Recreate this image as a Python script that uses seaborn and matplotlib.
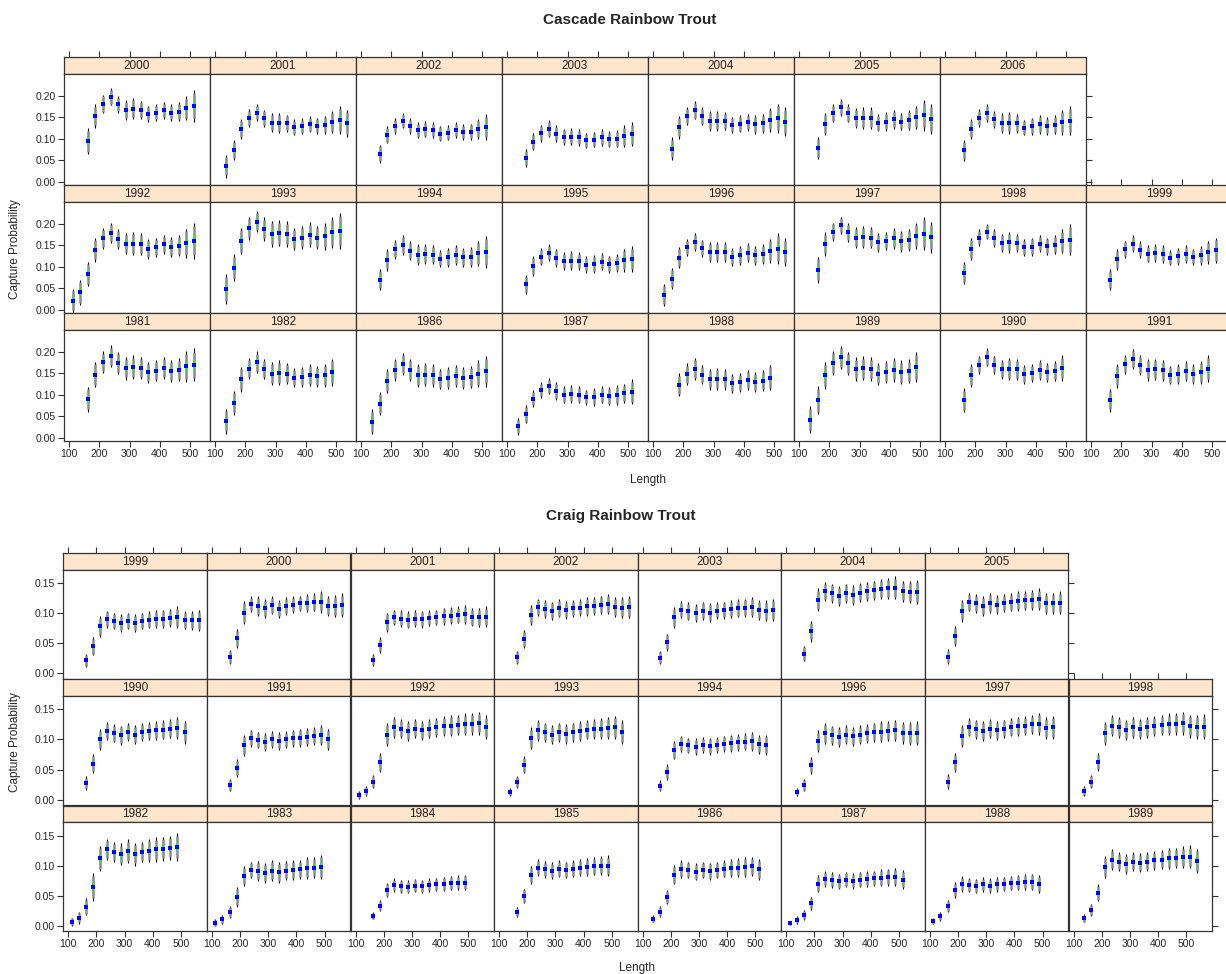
import pandas as pd
import seaborn as sns
import matplotlib
matplotlib.use("Agg")
import matplotlib.pyplot as plt

# length bin midpoints (mm)
length_bins = [112.5, 137.5, 162.5, 187.5, 212.5, 237.5, 262.5, 287.5, 312.5, 337.5,
               362.5, 387.5, 412.5, 437.5, 462.5, 487.5, 512.5, 537.5, 562.5]

# ---------------- Cascade ----------------
cascade_rows = [[2000, 2001, 2002, 2003, 2004, 2005, 2006],
                [1992, 1993, 1994, 1995, 1996, 1997, 1998, 1999],
                [1981, 1982, 1986, 1987, 1988, 1989, 1990, 1991]]

cascade_first = {2000: 162.5, 2001: 137.5, 2002: 162.5, 2003: 162.5, 2004: 162.5, 2005: 162.5, 2006: 162.5,
                 1992: 112.5, 1993: 137.5, 1994: 162.5, 1995: 162.5, 1996: 137.5, 1997: 162.5, 1998: 162.5,
                 1999: 162.5, 1981: 162.5, 1982: 137.5, 1986: 137.5, 1987: 137.5, 1988: 187.5, 1989: 137.5,
                 1990: 162.5, 1991: 162.5}

cascade_prob = {
    2000: [0.094, 0.153, 0.181, 0.198, 0.180, 0.167, 0.170, 0.168, 0.158, 0.161, 0.166, 0.161, 0.163, 0.171, 0.177],
    2001: [0.036, 0.074, 0.123, 0.148, 0.161, 0.148, 0.137, 0.137, 0.136, 0.127, 0.129, 0.134, 0.130, 0.133, 0.139, 0.144, 0.136],
    2002: [0.065, 0.109, 0.130, 0.142, 0.130, 0.120, 0.122, 0.120, 0.112, 0.114, 0.120, 0.116, 0.116, 0.123, 0.127],
    2003: [0.055, 0.093, 0.113, 0.123, 0.112, 0.104, 0.105, 0.103, 0.096, 0.098, 0.103, 0.099, 0.100, 0.106, 0.110],
    2004: [0.077, 0.127, 0.153, 0.166, 0.152, 0.141, 0.141, 0.141, 0.132, 0.135, 0.138, 0.134, 0.136, 0.144, 0.148, 0.140],
    2005: [0.078, 0.134, 0.159, 0.173, 0.159, 0.148, 0.148, 0.148, 0.137, 0.140, 0.145, 0.140, 0.143, 0.150, 0.155, 0.146],
    2006: [0.073, 0.123, 0.148, 0.160, 0.145, 0.136, 0.137, 0.136, 0.126, 0.129, 0.134, 0.130, 0.133, 0.138, 0.142],
    1992: [0.021, 0.040, 0.083, 0.140, 0.166, 0.179, 0.164, 0.154, 0.154, 0.153, 0.142, 0.145, 0.152, 0.146, 0.149, 0.155, 0.161],
    1993: [0.047, 0.098, 0.160, 0.190, 0.205, 0.188, 0.177, 0.178, 0.176, 0.164, 0.168, 0.175, 0.168, 0.171, 0.180, 0.184],
    1994: [0.070, 0.116, 0.141, 0.151, 0.137, 0.128, 0.130, 0.128, 0.119, 0.122, 0.127, 0.122, 0.123, 0.131, 0.134],
    1995: [0.059, 0.101, 0.123, 0.133, 0.121, 0.113, 0.114, 0.113, 0.105, 0.106, 0.112, 0.106, 0.109, 0.115, 0.118],
    1996: [0.034, 0.072, 0.121, 0.145, 0.158, 0.143, 0.134, 0.134, 0.134, 0.123, 0.127, 0.133, 0.127, 0.130, 0.137, 0.142, 0.134],
    1997: [0.093, 0.153, 0.182, 0.197, 0.180, 0.168, 0.170, 0.168, 0.157, 0.160, 0.166, 0.159, 0.163, 0.172, 0.177, 0.169],
    1998: [0.086, 0.142, 0.168, 0.182, 0.167, 0.156, 0.157, 0.155, 0.145, 0.147, 0.154, 0.148, 0.151, 0.159, 0.163],
    1999: [0.070, 0.117, 0.141, 0.154, 0.140, 0.130, 0.132, 0.130, 0.121, 0.124, 0.129, 0.123, 0.127, 0.134, 0.138],
    1981: [0.089, 0.147, 0.176, 0.190, 0.174, 0.162, 0.164, 0.163, 0.152, 0.156, 0.162, 0.156, 0.158, 0.166, 0.170],
    1982: [0.038, 0.081, 0.136, 0.161, 0.176, 0.160, 0.149, 0.151, 0.149, 0.140, 0.142, 0.146, 0.143, 0.145, 0.152],
    1986: [0.037, 0.079, 0.132, 0.158, 0.172, 0.157, 0.145, 0.147, 0.145, 0.137, 0.139, 0.144, 0.139, 0.141, 0.149, 0.155],
    1987: [0.026, 0.054, 0.091, 0.111, 0.120, 0.109, 0.100, 0.102, 0.100, 0.094, 0.095, 0.100, 0.096, 0.099, 0.103, 0.107],
    1988: [0.123, 0.148, 0.160, 0.147, 0.136, 0.137, 0.136, 0.127, 0.129, 0.134, 0.130, 0.133, 0.140],
    1989: [0.042, 0.087, 0.145, 0.174, 0.187, 0.173, 0.160, 0.162, 0.160, 0.149, 0.153, 0.158, 0.152, 0.155, 0.164],
    1990: [0.087, 0.145, 0.170, 0.187, 0.170, 0.159, 0.160, 0.159, 0.148, 0.151, 0.157, 0.152, 0.155, 0.162],
    1991: [0.087, 0.144, 0.171, 0.184, 0.169, 0.158, 0.159, 0.157, 0.146, 0.149, 0.155, 0.149, 0.152, 0.161],
}

# half-width of the outer interval
cascade_err = {
    2000: [0.030, 0.027, 0.022, 0.020, 0.019, 0.023, 0.024, 0.021, 0.019, 0.019, 0.020, 0.020, 0.022, 0.028, 0.037],
    2001: [0.027, 0.024, 0.024, 0.021, 0.020, 0.020, 0.022, 0.023, 0.020, 0.019, 0.019, 0.019, 0.019, 0.021, 0.025, 0.032, 0.032],
    2002: [0.021, 0.020, 0.018, 0.018, 0.018, 0.019, 0.019, 0.018, 0.018, 0.018, 0.018, 0.018, 0.019, 0.023, 0.030],
    2003: [0.020, 0.020, 0.020, 0.020, 0.019, 0.019, 0.019, 0.019, 0.018, 0.018, 0.019, 0.019, 0.020, 0.025, 0.028],
    2004: [0.026, 0.027, 0.020, 0.021, 0.021, 0.023, 0.024, 0.021, 0.019, 0.020, 0.020, 0.022, 0.022, 0.028, 0.034, 0.034],
    2005: [0.026, 0.026, 0.021, 0.020, 0.021, 0.023, 0.025, 0.025, 0.020, 0.023, 0.023, 0.020, 0.023, 0.027, 0.036, 0.035],
    2006: [0.025, 0.024, 0.021, 0.020, 0.020, 0.023, 0.025, 0.022, 0.018, 0.020, 0.022, 0.021, 0.022, 0.029, 0.034],
    1992: [0.028, 0.030, 0.028, 0.028, 0.024, 0.023, 0.023, 0.024, 0.027, 0.025, 0.023, 0.023, 0.022, 0.024, 0.025, 0.034, 0.042],
    1993: [0.035, 0.032, 0.031, 0.027, 0.025, 0.027, 0.030, 0.030, 0.030, 0.026, 0.027, 0.029, 0.027, 0.031, 0.036, 0.042],
    1994: [0.024, 0.025, 0.022, 0.024, 0.022, 0.024, 0.024, 0.022, 0.020, 0.022, 0.023, 0.022, 0.023, 0.030, 0.037],
    1995: [0.022, 0.023, 0.020, 0.020, 0.021, 0.021, 0.022, 0.021, 0.019, 0.021, 0.020, 0.020, 0.021, 0.027, 0.030],
    1996: [0.026, 0.025, 0.024, 0.020, 0.021, 0.020, 0.023, 0.024, 0.023, 0.021, 0.022, 0.023, 0.022, 0.024, 0.028, 0.036, 0.033],
    1997: [0.030, 0.027, 0.021, 0.020, 0.023, 0.025, 0.026, 0.025, 0.022, 0.021, 0.025, 0.025, 0.026, 0.031, 0.039, 0.036],
    1998: [0.026, 0.026, 0.020, 0.018, 0.020, 0.021, 0.024, 0.021, 0.020, 0.021, 0.020, 0.020, 0.022, 0.028, 0.036],
    1999: [0.024, 0.024, 0.020, 0.020, 0.020, 0.020, 0.021, 0.021, 0.018, 0.020, 0.021, 0.019, 0.022, 0.027, 0.030],
    1981: [0.029, 0.030, 0.025, 0.025, 0.025, 0.027, 0.028, 0.026, 0.025, 0.025, 0.026, 0.026, 0.027, 0.036, 0.038],
    1982: [0.029, 0.028, 0.029, 0.025, 0.025, 0.024, 0.027, 0.029, 0.025, 0.023, 0.023, 0.026, 0.025, 0.027, 0.032],
    1986: [0.029, 0.027, 0.028, 0.025, 0.026, 0.026, 0.027, 0.027, 0.026, 0.024, 0.025, 0.026, 0.025, 0.026, 0.032, 0.036],
    1987: [0.020, 0.021, 0.020, 0.018, 0.019, 0.021, 0.020, 0.021, 0.020, 0.017, 0.021, 0.020, 0.021, 0.024, 0.023, 0.029],
    1988: [0.027, 0.025, 0.025, 0.023, 0.024, 0.026, 0.024, 0.022, 0.022, 0.023, 0.023, 0.025, 0.030],
    1989: [0.032, 0.033, 0.031, 0.028, 0.027, 0.027, 0.027, 0.028, 0.027, 0.026, 0.025, 0.028, 0.028, 0.028, 0.035],
    1990: [0.028, 0.027, 0.021, 0.021, 0.021, 0.023, 0.025, 0.025, 0.022, 0.021, 0.023, 0.022, 0.024, 0.030],
    1991: [0.027, 0.028, 0.022, 0.023, 0.023, 0.025, 0.025, 0.025, 0.022, 0.023, 0.024, 0.023, 0.027, 0.031],
}

# ---------------- Craig ----------------
craig_rows = [[1999, 2000, 2001, 2002, 2003, 2004, 2005],
              [1990, 1991, 1992, 1993, 1994, 1996, 1997, 1998],
              [1982, 1983, 1984, 1985, 1986, 1987, 1988, 1989]]

craig_first = {1999: 162.5, 2000: 162.5, 2001: 162.5, 2002: 162.5, 2003: 162.5, 2004: 162.5, 2005: 162.5,
               1990: 162.5, 1991: 162.5, 1992: 112.5, 1993: 137.5, 1994: 162.5, 1996: 137.5, 1997: 162.5,
               1998: 137.5, 1982: 112.5, 1983: 112.5, 1984: 162.5, 1985: 162.5, 1986: 137.5, 1987: 112.5,
               1988: 112.5, 1989: 137.5}

craig_prob = {
    1999: [0.022, 0.045, 0.078, 0.090, 0.087, 0.084, 0.087, 0.084, 0.087, 0.089, 0.090, 0.091, 0.092, 0.093, 0.088, 0.088, 0.088],
    2000: [0.027, 0.058, 0.101, 0.115, 0.112, 0.108, 0.113, 0.107, 0.112, 0.114, 0.116, 0.117, 0.118, 0.119, 0.112, 0.112, 0.113],
    2001: [0.022, 0.047, 0.085, 0.093, 0.091, 0.089, 0.091, 0.090, 0.092, 0.093, 0.095, 0.096, 0.097, 0.098, 0.093, 0.093, 0.094],
    2002: [0.027, 0.057, 0.097, 0.110, 0.107, 0.104, 0.108, 0.105, 0.108, 0.109, 0.111, 0.112, 0.114, 0.115, 0.110, 0.109, 0.110],
    2003: [0.026, 0.052, 0.093, 0.106, 0.103, 0.100, 0.104, 0.101, 0.104, 0.105, 0.107, 0.108, 0.109, 0.110, 0.105, 0.104, 0.105],
    2004: [0.033, 0.070, 0.122, 0.136, 0.133, 0.128, 0.133, 0.130, 0.134, 0.136, 0.138, 0.140, 0.141, 0.142, 0.136, 0.135, 0.135],
    2005: [0.028, 0.062, 0.104, 0.118, 0.116, 0.112, 0.117, 0.114, 0.117, 0.118, 0.120, 0.121, 0.122, 0.123, 0.116, 0.116, 0.117],
    1990: [0.028, 0.060, 0.100, 0.114, 0.110, 0.107, 0.112, 0.108, 0.112, 0.114, 0.115, 0.116, 0.118, 0.119, 0.112],
    1991: [0.025, 0.053, 0.090, 0.102, 0.099, 0.096, 0.100, 0.097, 0.100, 0.102, 0.103, 0.104, 0.106, 0.107, 0.100],
    1992: [0.008, 0.015, 0.030, 0.062, 0.108, 0.120, 0.118, 0.114, 0.118, 0.115, 0.118, 0.120, 0.122, 0.123, 0.124, 0.125, 0.126, 0.127, 0.120],
    1993: [0.013, 0.030, 0.058, 0.102, 0.115, 0.112, 0.108, 0.112, 0.109, 0.112, 0.114, 0.116, 0.117, 0.118, 0.119, 0.120, 0.112],
    1994: [0.023, 0.046, 0.082, 0.093, 0.090, 0.088, 0.091, 0.089, 0.091, 0.093, 0.094, 0.095, 0.096, 0.097, 0.092, 0.091],
    1996: [0.013, 0.025, 0.057, 0.097, 0.110, 0.107, 0.104, 0.108, 0.105, 0.108, 0.110, 0.112, 0.113, 0.114, 0.115, 0.111, 0.110, 0.110],
    1997: [0.030, 0.062, 0.106, 0.120, 0.117, 0.114, 0.118, 0.115, 0.118, 0.120, 0.122, 0.123, 0.125, 0.126, 0.119, 0.120],
    1998: [0.015, 0.030, 0.063, 0.110, 0.123, 0.120, 0.116, 0.120, 0.117, 0.120, 0.122, 0.124, 0.125, 0.126, 0.127, 0.122, 0.121, 0.121],
    1982: [0.007, 0.014, 0.032, 0.065, 0.112, 0.127, 0.123, 0.119, 0.124, 0.119, 0.123, 0.125, 0.127, 0.128, 0.130, 0.131],
    1983: [0.0055, 0.011, 0.023, 0.048, 0.083, 0.093, 0.091, 0.088, 0.092, 0.089, 0.092, 0.093, 0.094, 0.096, 0.097, 0.098],
    1984: [0.017, 0.034, 0.060, 0.068, 0.066, 0.065, 0.067, 0.066, 0.068, 0.069, 0.070, 0.071, 0.072, 0.072],
    1985: [0.023, 0.050, 0.085, 0.097, 0.094, 0.092, 0.095, 0.093, 0.095, 0.097, 0.098, 0.099, 0.100, 0.100],
    1986: [0.012, 0.024, 0.048, 0.085, 0.095, 0.093, 0.090, 0.093, 0.091, 0.093, 0.095, 0.096, 0.097, 0.098, 0.099, 0.094],
    1987: [0.005, 0.010, 0.018, 0.038, 0.070, 0.078, 0.076, 0.074, 0.077, 0.075, 0.077, 0.078, 0.079, 0.080, 0.081, 0.081, 0.077],
    1988: [0.008, 0.016, 0.033, 0.060, 0.070, 0.068, 0.066, 0.069, 0.067, 0.069, 0.070, 0.071, 0.072, 0.073, 0.073, 0.070],
    1989: [0.013, 0.027, 0.055, 0.098, 0.110, 0.107, 0.103, 0.107, 0.105, 0.107, 0.109, 0.110, 0.112, 0.113, 0.114, 0.115, 0.108],
}

craig_err = {
    1999: [0.011, 0.015, 0.018, 0.014, 0.014, 0.015, 0.014, 0.015, 0.014, 0.014, 0.015, 0.015, 0.015, 0.018, 0.015, 0.016, 0.017],
    2000: [0.012, 0.016, 0.019, 0.013, 0.017, 0.016, 0.015, 0.015, 0.015, 0.014, 0.013, 0.015, 0.015, 0.018, 0.017, 0.018, 0.020],
    2001: [0.010, 0.013, 0.016, 0.013, 0.014, 0.014, 0.014, 0.014, 0.013, 0.013, 0.014, 0.014, 0.014, 0.016, 0.015, 0.016, 0.017],
    2002: [0.011, 0.015, 0.017, 0.014, 0.015, 0.015, 0.015, 0.015, 0.014, 0.014, 0.015, 0.015, 0.015, 0.017, 0.016, 0.017, 0.018],
    2003: [0.011, 0.014, 0.017, 0.014, 0.015, 0.015, 0.015, 0.015, 0.014, 0.014, 0.015, 0.015, 0.015, 0.017, 0.016, 0.017, 0.018],
    2004: [0.013, 0.017, 0.019, 0.016, 0.016, 0.017, 0.016, 0.017, 0.016, 0.016, 0.016, 0.017, 0.017, 0.019, 0.018, 0.019, 0.020],
    2005: [0.012, 0.016, 0.018, 0.015, 0.016, 0.016, 0.016, 0.016, 0.015, 0.015, 0.016, 0.016, 0.016, 0.018, 0.017, 0.018, 0.019],
    1990: [0.011, 0.016, 0.018, 0.015, 0.015, 0.016, 0.015, 0.016, 0.015, 0.015, 0.016, 0.016, 0.016, 0.018, 0.019],
    1991: [0.010, 0.015, 0.017, 0.014, 0.014, 0.015, 0.014, 0.015, 0.014, 0.014, 0.015, 0.015, 0.015, 0.017, 0.018],
    1992: [0.006, 0.008, 0.011, 0.016, 0.019, 0.017, 0.016, 0.017, 0.016, 0.016, 0.016, 0.016, 0.017, 0.017, 0.017, 0.018, 0.018, 0.019, 0.020],
    1993: [0.007, 0.010, 0.014, 0.018, 0.017, 0.016, 0.016, 0.016, 0.016, 0.016, 0.016, 0.016, 0.017, 0.017, 0.018, 0.019, 0.020],
    1994: [0.009, 0.013, 0.015, 0.013, 0.013, 0.014, 0.013, 0.014, 0.013, 0.013, 0.014, 0.014, 0.014, 0.016, 0.016, 0.017],
    1996: [0.007, 0.010, 0.014, 0.018, 0.017, 0.016, 0.016, 0.016, 0.016, 0.016, 0.016, 0.016, 0.017, 0.017, 0.018, 0.018, 0.019, 0.020],
    1997: [0.012, 0.016, 0.018, 0.015, 0.016, 0.016, 0.016, 0.016, 0.015, 0.015, 0.016, 0.016, 0.016, 0.018, 0.018, 0.019],
    1998: [0.008, 0.011, 0.015, 0.019, 0.018, 0.017, 0.017, 0.017, 0.017, 0.017, 0.017, 0.017, 0.018, 0.018, 0.019, 0.019, 0.020, 0.021],
    1982: [0.007, 0.010, 0.014, 0.023, 0.021, 0.018, 0.017, 0.018, 0.020, 0.019, 0.017, 0.019, 0.020, 0.020, 0.020, 0.023],
    1983: [0.006, 0.008, 0.010, 0.016, 0.017, 0.014, 0.017, 0.017, 0.017, 0.017, 0.016, 0.017, 0.016, 0.018, 0.018, 0.020],
    1984: [0.006, 0.009, 0.012, 0.011, 0.011, 0.011, 0.011, 0.011, 0.011, 0.011, 0.012, 0.012, 0.012, 0.013],
    1985: [0.008, 0.012, 0.015, 0.014, 0.014, 0.014, 0.014, 0.014, 0.014, 0.014, 0.015, 0.015, 0.016, 0.017],
    1986: [0.006, 0.009, 0.012, 0.016, 0.015, 0.014, 0.014, 0.014, 0.014, 0.014, 0.014, 0.015, 0.015, 0.016, 0.016, 0.017],
    1987: [0.004, 0.006, 0.008, 0.011, 0.014, 0.013, 0.013, 0.013, 0.013, 0.013, 0.013, 0.013, 0.013, 0.014, 0.014, 0.015, 0.016],
    1988: [0.005, 0.007, 0.010, 0.013, 0.013, 0.012, 0.012, 0.012, 0.012, 0.012, 0.012, 0.012, 0.013, 0.013, 0.014, 0.015],
    1989: [0.007, 0.010, 0.014, 0.018, 0.017, 0.016, 0.016, 0.016, 0.016, 0.016, 0.016, 0.016, 0.017, 0.017, 0.018, 0.019, 0.020],
}

# ---------------- drawing ----------------
sns.set_style("white")
plt.rcParams["font.family"] = ["Liberation Sans", "DejaVu Sans"]

W, H = 1226, 974
fig = plt.figure(figsize=(W / 100, H / 100), dpi=100)

STRIP = "#ffe5cc"
EDGE = "#333333"
xticks = [100, 200, 300, 400, 500]


def px_axes(x, y, w, h):
    return fig.add_axes([x / W, 1 - (y + h) / H, w / W, h / H])


def draw_panel(ax, year, first, prob, err):
    i0 = length_bins.index(first)
    xs = length_bins[i0:i0 + len(prob)]
    df = pd.DataFrame({"length": xs, "p": prob, "e": err})
    ax.vlines(df["length"], df["p"] - df["e"], df["p"] + df["e"], color="black",
              lw=0.8, zorder=2, capstyle="butt")
    ax.vlines(df["length"], df["p"] - 0.8 * df["e"], df["p"] + 0.8 * df["e"],
              color="#8c8c8c", lw=1.8, zorder=3, capstyle="butt")
    ax.vlines(df["length"], df["p"] - 0.3 * df["e"], df["p"] + 0.3 * df["e"],
              color="#22ee22", lw=1.3, zorder=4, capstyle="butt")
    sns.scatterplot(data=df, x="length", y="p", marker="s", color="blue", s=8,
                    linewidth=0, ax=ax, legend=False, zorder=5)


def draw_site(rows, first, prob, err, left, top, colw, rowh, striph, panelh,
              xlim, ylim, yticks):
    nrows = len(rows)
    for r, years in enumerate(rows):
        for c, year in enumerate(years):
            x0 = left + c * colw
            y0 = top + r * rowh
            sax = px_axes(x0, y0, colw, striph)
            ax = px_axes(x0, y0 + striph, colw, panelh)

            # strip
            sax.set_facecolor(STRIP)
            sax.set_xlim(xlim)
            sax.set_ylim(0, 1)
            sax.set_yticks([])
            sax.text(0.5, 0.47, str(year), transform=sax.transAxes, ha="center",
                     va="center", fontsize=8.5, color="#222222")
            topmost = (r == 0) or (r == 1 and c >= len(rows[0]))
            if topmost:
                sax.set_xticks(xticks)
                sax.tick_params(axis="x", bottom=False, labelbottom=False, top=True,
                                labeltop=False, direction="out", length=4, width=0.8,
                                color=EDGE)
            else:
                sax.set_xticks([])

            # panel
            draw_panel(ax, year, first[year], prob[year], err[year])
            ax.set_xlim(xlim)
            ax.set_ylim(ylim)
            ax.set_xticks(xticks)
            ax.set_yticks(yticks)
            ax.set_yticklabels([f"{v:.2f}" for v in yticks])
            ax.set_xlabel("")
            ax.set_ylabel("")
            bottom = r == nrows - 1
            ax.tick_params(axis="x", bottom=bottom, labelbottom=bottom, top=False,
                           direction="out", length=4, width=0.8, color=EDGE,
                           labelsize=7.5, pad=2)
            ax.tick_params(axis="y", left=(c == 0), labelleft=(c == 0),
                           right=(c == len(years) - 1), labelright=False,
                           direction="out", length=4, width=0.8, color=EDGE,
                           labelsize=7.5, pad=2)
            for a in (sax, ax):
                for sp in a.spines.values():
                    sp.set_color(EDGE)
                    sp.set_linewidth(0.9)


# Cascade block
draw_site(cascade_rows, cascade_first, cascade_prob, cascade_err,
          left=64, top=57, colw=146, rowh=128, striph=17, panelh=110.5,
          xlim=(83.5, 566), ylim=(-0.007, 0.251), yticks=[0.0, 0.05, 0.10, 0.15, 0.20])
fig.text(630 / W, 1 - 20 / H, "Cascade Rainbow Trout", ha="center", va="center",
         fontsize=11, fontweight="bold")
fig.text(648 / W, 1 - 480 / H, "Length", ha="center", va="center", fontsize=8.5)
fig.text(15 / W, 1 - 249 / H, "Capture Probability", ha="center", va="center",
         rotation=90, fontsize=8.5)

# Craig block
draw_site(craig_rows, craig_first, craig_prob, craig_err,
          left=63.3, top=553, colw=143.6, rowh=126.3, striph=16.5, panelh=109,
          xlim=(82.2, 592), ylim=(-0.0083, 0.1723), yticks=[0.0, 0.05, 0.10, 0.15])
fig.text(621 / W, 1 - 516 / H, "Craig Rainbow Trout", ha="center", va="center",
         fontsize=11, fontweight="bold")
fig.text(637 / W, 1 - 968 / H, "Length", ha="center", va="center", fontsize=8.5)
fig.text(15 / W, 1 - 742 / H, "Capture Probability", ha="center", va="center",
         rotation=90, fontsize=8.5)

fig.savefig("out.png", dpi=100)
